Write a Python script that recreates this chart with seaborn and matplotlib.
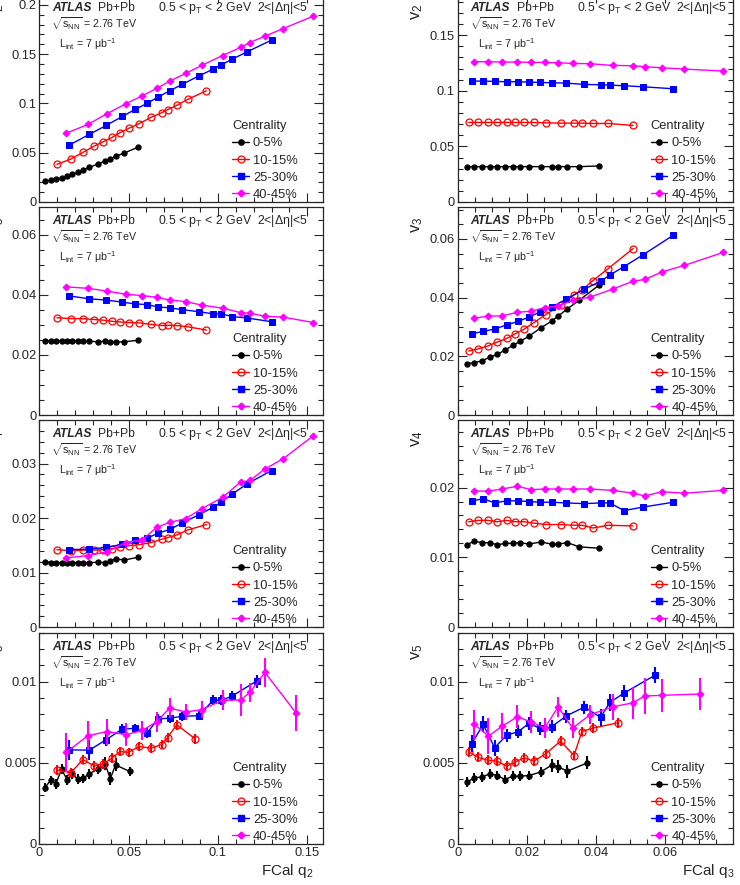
import numpy as np
import matplotlib
matplotlib.use('Agg')
import matplotlib.pyplot as plt
import seaborn as sns
from matplotlib.lines import Line2D
from matplotlib.ticker import MultipleLocator, FuncFormatter

# centrality classes
centralities = ['0-5%', '10-15%', '25-30%', '40-45%']

# FCal q2 bins (left column), per centrality
q2_c0 = [0.0032, 0.0063, 0.0093, 0.0125, 0.0155, 0.0185, 0.0215, 0.0244, 0.0280, 0.0327, 0.0369, 0.0397, 0.0427, 0.0476, 0.0554]
q2_c1 = [0.0099, 0.0177, 0.0244, 0.0308, 0.0358, 0.0407, 0.0452, 0.0500, 0.0558, 0.0625, 0.0685, 0.0718, 0.0769, 0.0830, 0.0935]
q2_c2 = [0.0164, 0.0280, 0.0375, 0.0465, 0.0536, 0.0603, 0.0664, 0.0730, 0.0800, 0.0894, 0.0974, 0.1019, 0.1080, 0.1164, 0.1300]
q2_c3 = [0.0149, 0.0272, 0.0379, 0.0485, 0.0577, 0.0657, 0.0730, 0.0819, 0.0909, 0.1026, 0.1127, 0.1179, 0.1263, 0.1366, 0.1534]
# v5 uses merged last bin
q2v5_c0 = [0.0032, 0.0063, 0.0093, 0.0125, 0.0155, 0.0185, 0.0215, 0.0244, 0.0280, 0.0327, 0.0369, 0.0397, 0.0427, 0.0506]
q2v5_c1 = [0.0099, 0.0177, 0.0244, 0.0308, 0.0358, 0.0407, 0.0452, 0.0500, 0.0558, 0.0625, 0.0685, 0.0718, 0.0769, 0.0872]
q2v5_c2 = [0.0164, 0.0280, 0.0375, 0.0465, 0.0536, 0.0603, 0.0664, 0.0730, 0.0800, 0.0894, 0.0974, 0.1019, 0.1080, 0.1217]
q2v5_c3 = [0.0149, 0.0272, 0.0379, 0.0485, 0.0577, 0.0657, 0.0730, 0.0819, 0.0909, 0.1026, 0.1127, 0.1179, 0.1263, 0.1437]

# FCal q3 bins (right column)
q3_c0 = [0.0026, 0.0048, 0.0071, 0.0093, 0.0115, 0.0137, 0.0159, 0.0181, 0.0207, 0.0241, 0.0272, 0.0291, 0.0318, 0.0352, 0.0410]
q3_c1 = [0.0032, 0.0058, 0.0087, 0.0115, 0.0142, 0.0167, 0.0193, 0.0221, 0.0255, 0.0298, 0.0337, 0.0360, 0.0392, 0.0436, 0.0508]
q3_c2 = [0.0041, 0.0074, 0.0107, 0.0142, 0.0175, 0.0207, 0.0238, 0.0272, 0.0314, 0.0367, 0.0414, 0.0441, 0.0482, 0.0536, 0.0625]
q3_c3 = [0.0048, 0.0089, 0.0129, 0.0173, 0.0213, 0.0252, 0.0291, 0.0333, 0.0384, 0.0449, 0.0508, 0.0542, 0.0591, 0.0657, 0.0769]
q3v5_c0 = [0.0026, 0.0048, 0.0071, 0.0093, 0.0115, 0.0137, 0.0159, 0.0181, 0.0207, 0.0241, 0.0272, 0.0291, 0.0318, 0.0376]
q3v5_c1 = [0.0032, 0.0058, 0.0087, 0.0115, 0.0142, 0.0167, 0.0193, 0.0221, 0.0255, 0.0298, 0.0337, 0.0360, 0.0392, 0.0465]
q3v5_c2 = [0.0041, 0.0074, 0.0107, 0.0142, 0.0175, 0.0207, 0.0238, 0.0272, 0.0314, 0.0367, 0.0414, 0.0441, 0.0482, 0.0572]
q3v5_c3 = [0.0048, 0.0089, 0.0129, 0.0173, 0.0213, 0.0252, 0.0291, 0.0333, 0.0384, 0.0449, 0.0508, 0.0542, 0.0591, 0.0702]

# v2 vs q2
v2q2_c0 = [0.0209, 0.0220, 0.0233, 0.0243, 0.0260, 0.0280, 0.0300, 0.0324, 0.0351, 0.0385, 0.0416, 0.0436, 0.0463, 0.0497, 0.0557]
v2q2_c1 = [0.0382, 0.0436, 0.0503, 0.0568, 0.0611, 0.0655, 0.0703, 0.0747, 0.0794, 0.0858, 0.0905, 0.0936, 0.0980, 0.1040, 0.1128]
v2q2_c2 = [0.0574, 0.0686, 0.0777, 0.0868, 0.0939, 0.1000, 0.1064, 0.1128, 0.1193, 0.1280, 0.1348, 0.1392, 0.1449, 0.1524, 0.1642]
v2q2_c3 = [0.0696, 0.0787, 0.0895, 0.0997, 0.1078, 0.1152, 0.1226, 0.1304, 0.1385, 0.1486, 0.1568, 0.1618, 0.1682, 0.1760, 0.1885]
# v3 vs q2
v3q2_c0 = [0.0247, 0.0247, 0.0247, 0.0247, 0.0247, 0.0247, 0.0247, 0.0246, 0.0246, 0.0244, 0.0246, 0.0244, 0.0243, 0.0244, 0.0249]
v3q2_c1 = [0.0324, 0.0321, 0.0321, 0.0318, 0.0316, 0.0312, 0.0310, 0.0308, 0.0307, 0.0302, 0.0298, 0.0299, 0.0298, 0.0294, 0.0283]
v3q2_c2 = [0.0397, 0.0387, 0.0383, 0.0376, 0.0370, 0.0368, 0.0360, 0.0357, 0.0351, 0.0344, 0.0337, 0.0337, 0.0328, 0.0323, 0.0311]
v3q2_c3 = [0.0427, 0.0422, 0.0413, 0.0402, 0.0398, 0.0392, 0.0383, 0.0378, 0.0366, 0.0356, 0.0341, 0.0339, 0.0329, 0.0326, 0.0308]
# v4 vs q2
v4q2_c0 = [0.0120, 0.0118, 0.0118, 0.0118, 0.0118, 0.0118, 0.0118, 0.0118, 0.0118, 0.0119, 0.0118, 0.0122, 0.0125, 0.0123, 0.0128]
v4q2_c1 = [0.0142, 0.0140, 0.0141, 0.0141, 0.0142, 0.0144, 0.0146, 0.0149, 0.0151, 0.0155, 0.0161, 0.0164, 0.0169, 0.0178, 0.0188]
v4q2_c2 = [0.0142, 0.0143, 0.0146, 0.0152, 0.0159, 0.0163, 0.0172, 0.0179, 0.0191, 0.0206, 0.0220, 0.0229, 0.0244, 0.0263, 0.0287]
v4q2_c3 = [0.0127, 0.0131, 0.0138, 0.0155, 0.0160, 0.0183, 0.0192, 0.0199, 0.0217, 0.0238, 0.0266, 0.0269, 0.0290, 0.0309, 0.0351]
# v5 vs q2 (with errors)
v5q2_c0 = [0.00348, 0.00392, 0.00371, 0.00462, 0.00396, 0.00430, 0.00400, 0.00404, 0.00433, 0.00461, 0.00493, 0.00402, 0.00487, 0.00447]
v5q2_c1 = [0.00455, 0.00440, 0.00520, 0.00480, 0.00494, 0.00529, 0.00570, 0.00564, 0.00601, 0.00590, 0.00613, 0.00656, 0.00735, 0.00648]
v5q2_c2 = [0.00580, 0.00578, 0.00643, 0.00709, 0.00712, 0.00683, 0.00770, 0.00776, 0.00786, 0.00791, 0.00887, 0.00885, 0.00912, 0.01004]
v5q2_c3 = [0.00564, 0.00667, 0.00693, 0.00673, 0.00700, 0.00753, 0.00838, 0.00813, 0.00828, 0.00886, 0.00887, 0.00934, 0.01057, 0.00808]
e5q2_c0 = [0.0003, 0.0003, 0.0003, 0.0003, 0.0003, 0.0003, 0.0003, 0.0003, 0.0003, 0.0003, 0.0004, 0.0004, 0.0004, 0.0003]
e5q2_c1 = [0.0003, 0.0003, 0.0003, 0.0003, 0.0003, 0.0003, 0.0003, 0.0003, 0.0003, 0.0003, 0.0003, 0.0003, 0.0003, 0.0003]
e5q2_c2 = [0.0006, 0.0006, 0.0004, 0.0003, 0.0003, 0.0003, 0.0003, 0.0003, 0.0003, 0.0003, 0.0003, 0.0003, 0.0003, 0.0004]
e5q2_c3 = [0.0012, 0.0009, 0.0008, 0.0007, 0.0006, 0.0006, 0.0006, 0.0005, 0.0005, 0.0006, 0.0010, 0.0006, 0.0009, 0.0011]

# v2 vs q3
v2q3_c0 = [0.0318, 0.0318, 0.0318, 0.0318, 0.0318, 0.0318, 0.0318, 0.0318, 0.0318, 0.0318, 0.0318, 0.0318, 0.0318, 0.0318, 0.0324]
v2q3_c1 = [0.0715, 0.0715, 0.0715, 0.0715, 0.0715, 0.0715, 0.0715, 0.0715, 0.0712, 0.0709, 0.0709, 0.0709, 0.0706, 0.0706, 0.0688]
v2q3_c2 = [0.1087, 0.1087, 0.1084, 0.1081, 0.1081, 0.1078, 0.1075, 0.1072, 0.1069, 0.1057, 0.1054, 0.1051, 0.1045, 0.1036, 0.1018]
v2q3_c3 = [0.1261, 0.1261, 0.1258, 0.1258, 0.1255, 0.1255, 0.1252, 0.1246, 0.1243, 0.1228, 0.1225, 0.1216, 0.1207, 0.1195, 0.1177]
# v3 vs q3
v3q3_c0 = [0.0175, 0.0178, 0.0185, 0.0197, 0.0207, 0.0221, 0.0237, 0.0251, 0.0269, 0.0297, 0.0320, 0.0337, 0.0362, 0.0391, 0.0443]
v3q3_c1 = [0.0218, 0.0225, 0.0235, 0.0249, 0.0261, 0.0277, 0.0293, 0.0315, 0.0342, 0.0374, 0.0410, 0.0426, 0.0458, 0.0499, 0.0567]
v3q3_c2 = [0.0277, 0.0285, 0.0293, 0.0307, 0.0319, 0.0334, 0.0351, 0.0368, 0.0394, 0.0429, 0.0456, 0.0477, 0.0506, 0.0545, 0.0613]
v3q3_c3 = [0.0330, 0.0337, 0.0338, 0.0350, 0.0354, 0.0366, 0.0371, 0.0391, 0.0402, 0.0429, 0.0456, 0.0462, 0.0487, 0.0510, 0.0554]
# v4 vs q3
v4q3_c0 = [0.0118, 0.0123, 0.0121, 0.0121, 0.0118, 0.0120, 0.0120, 0.0121, 0.0119, 0.0122, 0.0119, 0.0119, 0.0121, 0.0115, 0.0113]
v4q3_c1 = [0.0151, 0.0153, 0.0153, 0.0151, 0.0153, 0.0151, 0.0151, 0.0149, 0.0147, 0.0147, 0.0146, 0.0146, 0.0142, 0.0146, 0.0145]
v4q3_c2 = [0.0181, 0.0184, 0.0178, 0.0181, 0.0181, 0.0180, 0.0179, 0.0179, 0.0178, 0.0177, 0.0178, 0.0178, 0.0167, 0.0172, 0.0179]
v4q3_c3 = [0.0195, 0.0195, 0.0198, 0.0202, 0.0197, 0.0198, 0.0198, 0.0198, 0.0198, 0.0196, 0.0192, 0.0188, 0.0194, 0.0192, 0.0196]
# v5 vs q3 (with errors)
v5q3_c0 = [0.00381, 0.00407, 0.00414, 0.00432, 0.00422, 0.00397, 0.00418, 0.00418, 0.00422, 0.00444, 0.00486, 0.00475, 0.00449, 0.00500]
v5q3_c1 = [0.00568, 0.00535, 0.00516, 0.00510, 0.00479, 0.00506, 0.00531, 0.00510, 0.00556, 0.00634, 0.00545, 0.00693, 0.00714, 0.00747]
v5q3_c2 = [0.00619, 0.00737, 0.00593, 0.00671, 0.00691, 0.00745, 0.00712, 0.00722, 0.00788, 0.00844, 0.00780, 0.00872, 0.00930, 0.01040]
v5q3_c3 = [0.00737, 0.00665, 0.00726, 0.00784, 0.00751, 0.00714, 0.00844, 0.00714, 0.00797, 0.00845, 0.00870, 0.00912, 0.00916, 0.00924]
e5q3_c0 = [0.0003, 0.0003, 0.0003, 0.0003, 0.0003, 0.0003, 0.0003, 0.0003, 0.0003, 0.0003, 0.0004, 0.0004, 0.0004, 0.0004]
e5q3_c1 = [0.0003, 0.0003, 0.0003, 0.0003, 0.0003, 0.0003, 0.0003, 0.0003, 0.0003, 0.0003, 0.0003, 0.0003, 0.0003, 0.0003]
e5q3_c2 = [0.0005, 0.0005, 0.0005, 0.0004, 0.0004, 0.0004, 0.0004, 0.0004, 0.0004, 0.0004, 0.0005, 0.0005, 0.0005, 0.0005]
e5q3_c3 = [0.0009, 0.0011, 0.0008, 0.0007, 0.0007, 0.0006, 0.0006, 0.0006, 0.0006, 0.0008, 0.0010, 0.0011, 0.0010, 0.0010]

sns.set_theme(style='ticks')
plt.rcParams['font.family'] = ['Liberation Sans', 'DejaVu Sans']
plt.rcParams['mathtext.fontset'] = 'custom'
plt.rcParams['mathtext.rm'] = 'Liberation Sans'
plt.rcParams['mathtext.it'] = 'Liberation Sans:italic'
plt.rcParams['mathtext.bf'] = 'Liberation Sans:bold'

colors = ['black', '#ff0000', '#0000ff', '#ff00ff']
mstyle = [dict(marker='o', markersize=3.8, markerfacecolor='black', markeredgecolor='black'),
          dict(marker='o', markersize=5, markerfacecolor='none', markeredgecolor='#ff0000', markeredgewidth=0.9),
          dict(marker='s', markersize=4.5, markerfacecolor='#0000ff', markeredgecolor='#0000ff'),
          dict(marker='D', markersize=3.5, markerfacecolor='#ff00ff', markeredgecolor='#ff00ff')]

W, H = 740, 885
fig = plt.figure(figsize=(W / 100, H / 100), dpi=100)

rows = [(-6, 202), (207, 415), (420, 627), (633, 844)]
cols = [(39.3, 323.3), (457.7, 732.7)]

panels = [
    # (row, col, xs, ys, errs, ymax, ymajor, yminor, label)
    (0, 0, [q2_c0, q2_c1, q2_c2, q2_c3], [v2q2_c0, v2q2_c1, v2q2_c2, v2q2_c3], None, 0.211, 0.05, 0.01, 'v$_2$'),
    (1, 0, [q2_c0, q2_c1, q2_c2, q2_c3], [v3q2_c0, v3q2_c1, v3q2_c2, v3q2_c3], None, 0.0693, 0.02, 0.005, 'v$_3$'),
    (2, 0, [q2_c0, q2_c1, q2_c2, q2_c3], [v4q2_c0, v4q2_c1, v4q2_c2, v4q2_c3], None, 0.038, 0.01, 0.002, 'v$_4$'),
    (3, 0, [q2v5_c0, q2v5_c1, q2v5_c2, q2v5_c3], [v5q2_c0, v5q2_c1, v5q2_c2, v5q2_c3],
     [e5q2_c0, e5q2_c1, e5q2_c2, e5q2_c3], 0.013, 0.005, 0.001, 'v$_5$'),
    (0, 1, [q3_c0, q3_c1, q3_c2, q3_c3], [v2q3_c0, v2q3_c1, v2q3_c2, v2q3_c3], None, 0.187, 0.05, 0.01, 'v$_2$'),
    (1, 1, [q3_c0, q3_c1, q3_c2, q3_c3], [v3q3_c0, v3q3_c1, v3q3_c2, v3q3_c3], None, 0.0709, 0.02, 0.005, 'v$_3$'),
    (2, 1, [q3_c0, q3_c1, q3_c2, q3_c3], [v4q3_c0, v4q3_c1, v4q3_c2, v4q3_c3], None, 0.0297, 0.01, 0.002, 'v$_4$'),
    (3, 1, [q3v5_c0, q3v5_c1, q3v5_c2, q3v5_c3], [v5q3_c0, v5q3_c1, v5q3_c2, v5q3_c3],
     [e5q3_c0, e5q3_c1, e5q3_c2, e5q3_c3], 0.013, 0.005, 0.001, 'v$_5$'),
]

fmt = FuncFormatter(lambda v, p: '%g' % round(v, 6))

for r, c, xs, ys, errs, ymax, ymaj, ymin, lab in panels:
    top, bot = rows[r]
    left, right = cols[c]
    ax = fig.add_axes([left / W, 1 - bot / H, (right - left) / W, (bot - top) / H])
    for i in range(4):
        if errs is not None:
            ax.errorbar(xs[i], ys[i], yerr=errs[i], fmt='none', ecolor=colors[i], elinewidth=1.5, capsize=0)
        sns.lineplot(x=xs[i], y=ys[i], ax=ax, color=colors[i], linewidth=1, estimator=None,
                     sort=False, legend=False, **mstyle[i])
    ax.set_ylim(0, ymax)
    if c == 0:
        ax.set_xlim(0, 0.159)
        ax.xaxis.set_major_locator(MultipleLocator(0.05))
        ax.xaxis.set_minor_locator(MultipleLocator(0.01))
    else:
        ax.set_xlim(0, 0.0797)
        ax.xaxis.set_major_locator(MultipleLocator(0.02))
        ax.xaxis.set_minor_locator(MultipleLocator(0.005))
    ax.yaxis.set_major_locator(MultipleLocator(ymaj))
    ax.yaxis.set_minor_locator(MultipleLocator(ymin))
    ax.xaxis.set_major_formatter(fmt)
    ax.yaxis.set_major_formatter(fmt)
    ax.tick_params(which='both', direction='in', top=True, right=True, labelsize=9.3, width=0.8, pad=2)
    ax.tick_params(which='major', length=6.5)
    ax.tick_params(which='minor', length=3.3)
    for s in ax.spines.values():
        s.set_linewidth(0.9)
    if r < 3:
        ax.tick_params(labelbottom=False)
        ax.set_xlabel('')
    else:
        ax.set_xlabel('FCal q$_%d$' % (c + 2), fontsize=11, loc='right')
        ax.xaxis.set_label_coords(0.964 if c == 0 else 1.008, -0.085)
    ax.set_ylabel(lab, fontsize=12, loc='top')
    ax.yaxis.set_label_coords(-33 / (right - left), 0.952)

    # ATLAS labels
    ax.annotate('ATLAS', xy=(0, 1), xycoords='axes fraction', xytext=(13, -17),
                textcoords='offset pixels', fontsize=8.7, fontweight='bold', fontstyle='italic', va='baseline')
    ax.annotate('Pb+Pb', xy=(0, 1), xycoords='axes fraction', xytext=(59, -17),
                textcoords='offset pixels', fontsize=8.7, va='baseline')
    ax.annotate('0.5 < p$_{\\mathrm{T}}$ < 2 GeV  2<|Δη|<5', xy=(0, 1), xycoords='axes fraction',
                xytext=(119, -17), textcoords='offset pixels', fontsize=8.8, va='baseline')
    ax.annotate('$\\sqrt{\\mathrm{s}_{\\mathrm{NN}}}$ = 2.76 TeV', xy=(0, 1), xycoords='axes fraction',
                xytext=(12, -34), textcoords='offset pixels', fontsize=7.7, va='baseline')
    ax.annotate('L$_{\\mathrm{int}}$ = 7 μb$^{\\mathrm{-1}}$', xy=(0, 1), xycoords='axes fraction',
                xytext=(20, -54), textcoords='offset pixels', fontsize=7.7, va='baseline')

    handles = [Line2D([0], [0], color=colors[i], linewidth=1, **mstyle[i]) for i in range(4)]
    ax.legend(handles, centralities, title='Centrality', loc='lower left',
              bbox_to_anchor=(193 / (right - left), 0.005), frameon=False, fontsize=9.3,
              title_fontsize=9.3, alignment='left', borderpad=0, borderaxespad=0,
              handlelength=1.3, handletextpad=0.3, labelspacing=0.4)

fig.savefig('out.png', dpi=100)
